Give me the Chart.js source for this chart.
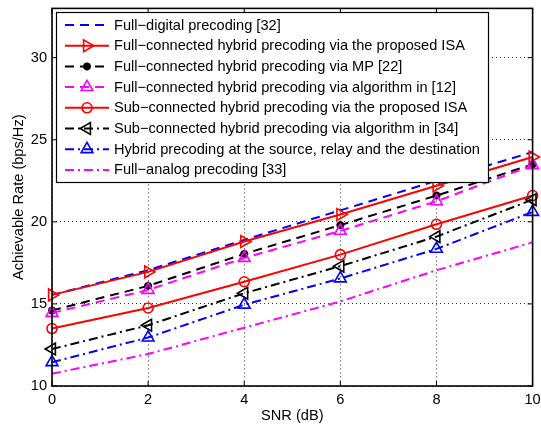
<!DOCTYPE html>
<html>
<head>
<meta charset="utf-8">
<script src="https://cdn.jsdelivr.net/npm/chart.js@4.4.0/dist/chart.umd.min.js"></script>
<style>
  html, body { margin: 0; padding: 0; background: #fff; }
  canvas { display: block; }
</style>
</head>
<body>
<canvas id="chart" width="541" height="425"></canvas>
<script>
// ---------- Data ----------
const snr = [0, 2, 4, 6, 8, 10];
const xTicks = [0, 2, 4, 6, 8, 10];
const yTicks = [10, 15, 20, 25, 30];

const fullDigital = [15.55, 17.05, 18.9, 20.7, 22.5, 24.25];
const fullIsa     = [15.55, 16.95, 18.8, 20.45, 22.2, 23.95];
const fullMp      = [14.6, 16.1, 18.05, 19.8, 21.6, 23.5];
const fullAlg12   = [14.45, 15.85, 17.8, 19.45, 21.25, 23.45];
const subIsa      = [13.5, 14.75, 16.35, 18.0, 19.85, 21.6];
const subAlg34    = [12.25, 13.7, 15.65, 17.3, 19.1, 21.35];
const relayHybrid = [11.45, 12.95, 14.95, 16.55, 18.35, 20.6];
const fullAnalog  = [10.75, 11.95, 13.55, 15.15, 17.05, 18.75];

const seriesNames = [
  'Full\u2212digital precoding [32]',
  'Full\u2212connected hybrid precoding via the proposed ISA',
  'Full\u2212connected hybrid precoding via MP [22]',
  'Full\u2212connected hybrid precoding via algorithm in [12]',
  'Sub\u2212connected hybrid precoding via the proposed ISA',
  'Sub\u2212connected hybrid precoding via algorithm in [34]',
  'Hybrid precoding at the source, relay and the destination',
  'Full\u2212analog precoding [33]'
];

// ---------- Styles ----------
const FONT = '"Liberation Sans", Arial, Helvetica, sans-serif';
const FSIZE = 14.6;
const DASH = [9, 6];
const DASHDOT = [9, 4, 2, 4];

function series(i, data, color, dash, style, radius, rotation) {
  return {
    label: seriesNames[i],
    data: snr.map((x, k) => ({ x, y: data[k] })),
    borderColor: color,
    borderWidth: 2,
    borderDash: dash,
    pointStyle: style || 'circle',
    pointRadius: style ? radius : 0,
    pointRotation: rotation || 0,
    pointBorderColor: color,
    pointBackgroundColor: 'rgba(0,0,0,0)',
    pointBorderWidth: style === 'star' ? 2.5 : 1.6,
    tension: 0,
    clip: false,
    order: -i
  };
}

const datasets = [
  series(0, fullDigital, '#0000ff', DASH),
  series(1, fullIsa, '#ff0000', [], 'triangle', 6.8, 90),
  series(2, fullMp, '#000000', DASH, 'star', 4),
  series(3, fullAlg12, '#ff00ff', DASH, 'triangle', 6.8),
  series(4, subIsa, '#ff0000', [], 'circle', 5),
  series(5, subAlg34, '#000000', DASHDOT, 'triangle', 6.8, -90),
  series(6, relayHybrid, '#0000ff', DASHDOT, 'triangle', 6.8),
  series(7, fullAnalog, '#ff00ff', DASHDOT)
];

// ---------- Frame, inward ticks and boxed legend ----------
const matlabLook = {
  id: 'matlabLook',
  afterDatasetsDraw(chart) {
    const { ctx, chartArea: a, scales: { x, y } } = chart;
    ctx.save();
    ctx.strokeStyle = '#000';
    ctx.lineWidth = 1.6;
    ctx.setLineDash([]);
    ctx.strokeRect(a.left, a.top, a.right - a.left, a.bottom - a.top);
    ctx.beginPath();
    for (const v of xTicks) {
      const px = x.getPixelForValue(v);
      ctx.moveTo(px, a.bottom); ctx.lineTo(px, a.bottom - 5);
      ctx.moveTo(px, a.top); ctx.lineTo(px, a.top + 5);
    }
    for (const v of yTicks) {
      const py = y.getPixelForValue(v);
      ctx.moveTo(a.left, py); ctx.lineTo(a.left + 5, py);
      ctx.moveTo(a.right, py); ctx.lineTo(a.right - 5, py);
    }
    ctx.lineWidth = 1;
    ctx.stroke();
    ctx.restore();
  },
  afterDraw(chart) {
    const ctx = chart.ctx;
    const box = { left: 56, top: 12, right: 488, bottom: 182 };
    const rowH = 20.7, firstRow = 25;
    ctx.save();
    ctx.fillStyle = '#fff';
    ctx.fillRect(box.left, box.top, box.right - box.left, box.bottom - box.top);
    ctx.strokeStyle = '#000';
    ctx.lineWidth = 1.2;
    ctx.setLineDash([]);
    ctx.strokeRect(box.left + 0.5, box.top + 0.5, box.right - box.left, box.bottom - box.top);

    chart.data.datasets.forEach((ds, i) => {
      const ry = firstRow + i * rowH;
      const x0 = 65, x1 = 109, xm = (x0 + x1) / 2;
      ctx.strokeStyle = ds.borderColor;
      ctx.lineWidth = ds.borderWidth;
      ctx.setLineDash(ds.borderDash);
      ctx.beginPath();
      ctx.moveTo(x0, ry); ctx.lineTo(x1, ry);
      ctx.stroke();
      if (ds.pointRadius > 0) {
        ctx.setLineDash([]);
        ctx.lineWidth = ds.pointBorderWidth;
        ctx.fillStyle = 'rgba(0,0,0,0)';
        Chart.helpers.drawPoint(ctx, {
          pointStyle: ds.pointStyle,
          rotation: ds.pointRotation,
          radius: ds.pointRadius,
          borderWidth: ds.pointBorderWidth
        }, xm, ry);
      }
      ctx.fillStyle = '#000';
      ctx.font = FSIZE + 'px ' + FONT;
      ctx.textBaseline = 'middle';
      ctx.textAlign = 'left';
      ctx.fillText(ds.label, 114, ry + 0.5);
    });
    ctx.restore();
  }
};

// ---------- Chart ----------
Chart.defaults.font.family = FONT;
Chart.defaults.font.size = FSIZE;
Chart.defaults.color = '#000';

new Chart(document.getElementById('chart'), {
  type: 'line',
  data: { datasets },
  options: {
    responsive: false,
    animation: false,
    devicePixelRatio: 1,
    layout: { padding: { left: 0, right: 7, top: 8, bottom: 0 } },
    plugins: { legend: { display: false }, tooltip: { enabled: false } },
    scales: {
      x: {
        type: 'linear',
        min: 0,
        max: 10,
        afterBuildTicks: s => { s.ticks = xTicks.map(v => ({ value: v })); },
        afterFit: s => { s.height = 39; s.paddingLeft = 0; s.paddingRight = 0; },
        ticks: { padding: 5, maxRotation: 0 },
        grid: { color: '#333', lineWidth: 1, drawTicks: false },
        border: { display: false, dash: [1, 3] },
        title: { display: true, text: 'SNR (dB)', padding: { top: 0, bottom: 0 } }
      },
      y: {
        type: 'linear',
        min: 10,
        max: 33,
        afterBuildTicks: s => { s.ticks = yTicks.map(v => ({ value: v })); },
        afterFit: s => { s.width = 52; s.paddingTop = 0; s.paddingBottom = 0; },
        ticks: { padding: 5 },
        grid: { color: '#333', lineWidth: 1, drawTicks: false },
        border: { display: false, dash: [1, 3] },
        title: { display: true, text: 'Achievable Rate (bps/Hz)', padding: { top: 10, bottom: 0 } }
      }
    }
  },
  plugins: [matlabLook]
});
</script>
</body>
</html>
